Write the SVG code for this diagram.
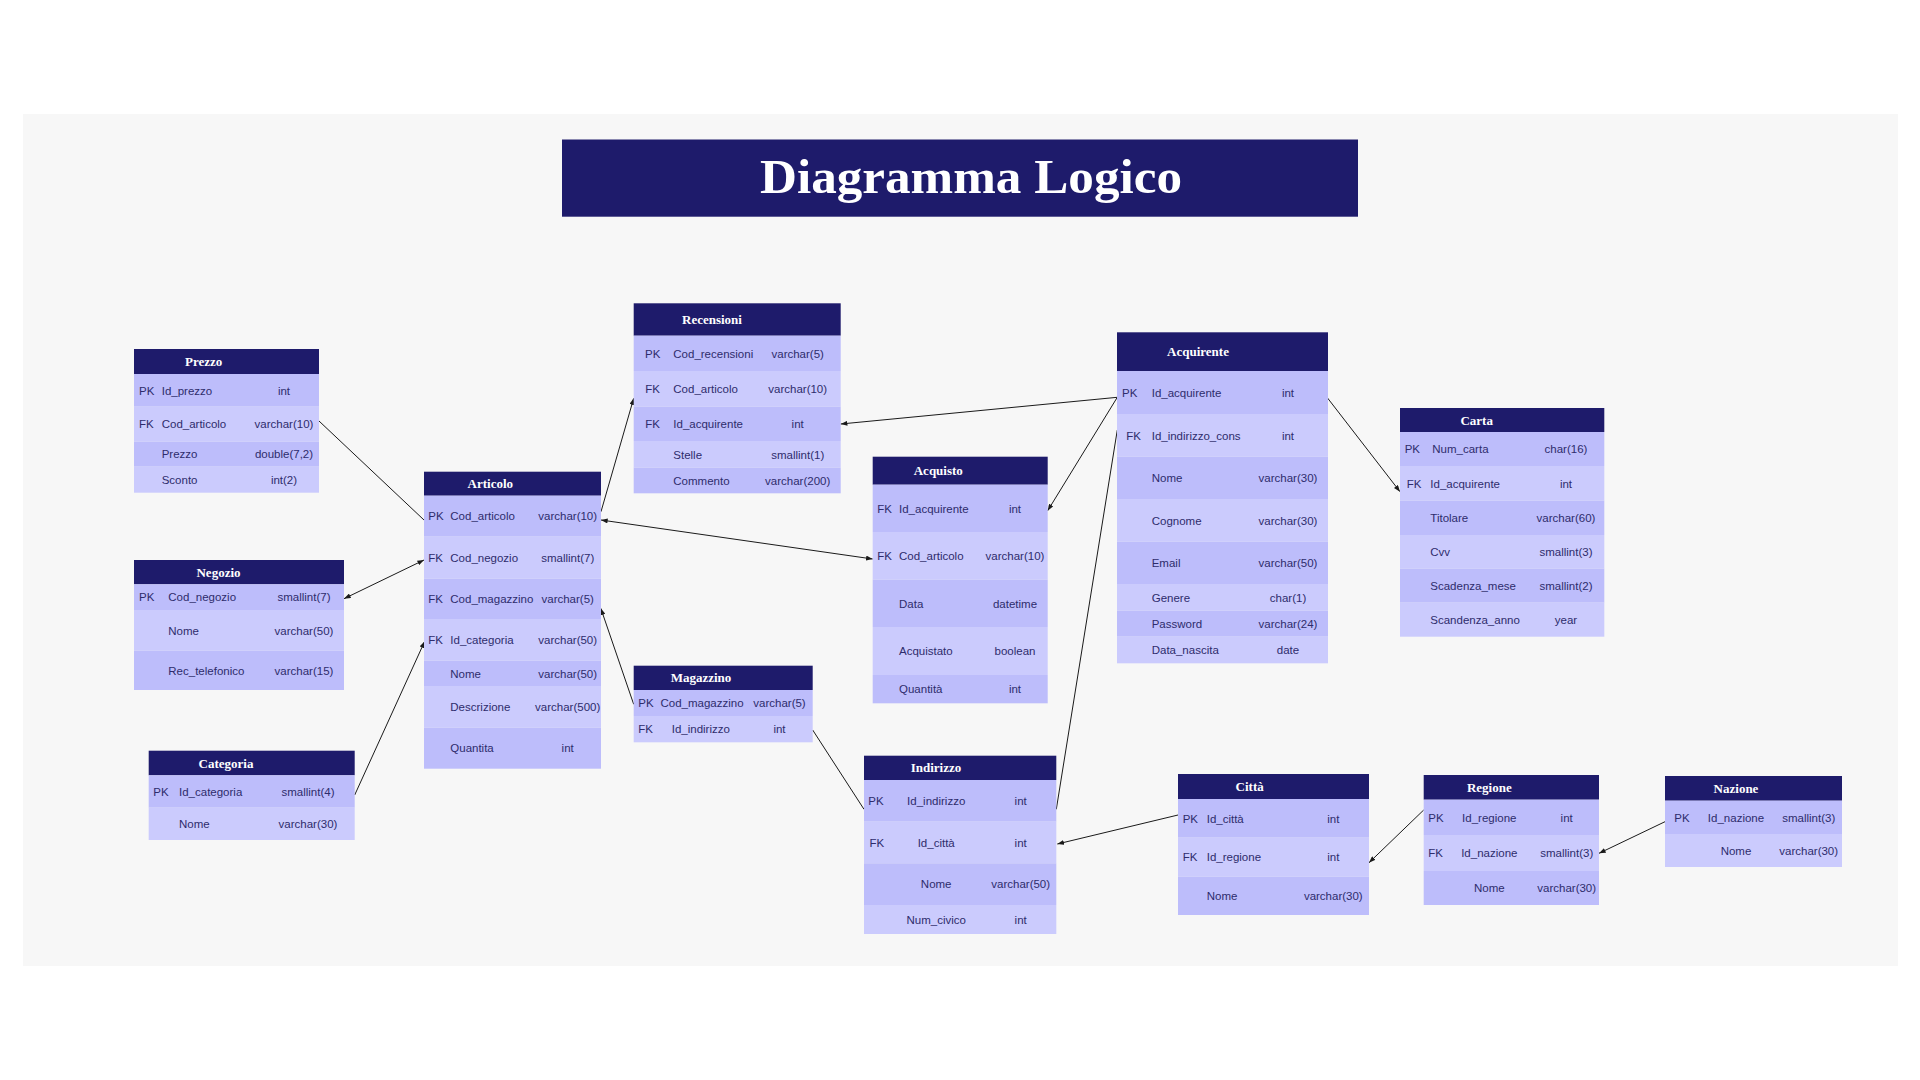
<svg xmlns="http://www.w3.org/2000/svg" width="1920" height="1080" viewBox="0 0 1920 1080">
<style>
.hd{fill:#1e1b6b}
.d{fill:#bdbdfb}
.l{fill:#cbcbfd}
.t{font-family:"Liberation Serif","DejaVu Serif",serif;font-weight:bold;font-size:13px;fill:#ffffff;text-anchor:middle}
.k{font-family:"Liberation Sans",Arial,sans-serif;font-size:11.5px;fill:#2e2c6c}
.m{text-anchor:middle}
.c{stroke:#1a1a1a;stroke-width:1;fill:none}
</style>
<defs>
<marker id="ar" viewBox="0 0 8 6" refX="8" refY="3" markerWidth="7" markerHeight="5" markerUnits="userSpaceOnUse" orient="auto-start-reverse">
<path d="M0,0 L8,3 L0,6 Z" fill="#1a1a1a"/>
</marker>
</defs>
<rect x="0" y="0" width="1920" height="1080" fill="#ffffff"/>
<rect x="23" y="114" width="1875" height="852" fill="#f7f7f7"/>
<g id="title">
<rect x="562" y="139.5" width="796" height="77.2" class="hd"/>
<text x="971" y="193.3" font-family="Liberation Serif,DejaVu Serif,serif" font-weight="bold" font-size="48" fill="#ffffff" text-anchor="middle" textLength="422" lengthAdjust="spacingAndGlyphs">Diagramma Logico</text>
</g>
<g id="connectors">
<line class="c" x1="319" y1="421" x2="424" y2="520"/>
<line class="c" x1="344" y1="598.7" x2="424" y2="560" marker-start="url(#ar)" marker-end="url(#ar)"/>
<line class="c" x1="354.7" y1="795" x2="424.7" y2="641.3" marker-end="url(#ar)"/>
<line class="c" x1="601" y1="511.7" x2="633.7" y2="398.3" marker-end="url(#ar)"/>
<line class="c" x1="601" y1="520" x2="872.7" y2="559" marker-start="url(#ar)" marker-end="url(#ar)"/>
<line class="c" x1="633.7" y1="704.3" x2="600.8" y2="608.3" marker-end="url(#ar)"/>
<line class="c" x1="812.7" y1="730" x2="864" y2="809.3"/>
<line class="c" x1="1117.3" y1="397.3" x2="840.7" y2="424" marker-end="url(#ar)"/>
<line class="c" x1="1117.3" y1="397.3" x2="1047.7" y2="510.7" marker-end="url(#ar)"/>
<line class="c" x1="1117.3" y1="430" x2="1056.3" y2="809.3"/>
<line class="c" x1="1327.3" y1="397.7" x2="1400" y2="491.7" marker-end="url(#ar)"/>
<line class="c" x1="1178" y1="815" x2="1057.3" y2="844" marker-end="url(#ar)"/>
<line class="c" x1="1423.7" y1="810" x2="1369" y2="862.7" marker-end="url(#ar)"/>
<line class="c" x1="1665" y1="821.7" x2="1599" y2="853.3" marker-end="url(#ar)"/>
</g>
<g id="prezzo">
<rect x="134" y="349" width="185" height="25" class="hd"/>
<text class="t" x="203.7" y="366">Prezzo</text>
<rect x="134" y="374" width="185" height="32.7" class="d"/>
<rect x="134" y="406.7" width="185" height="35" class="l"/>
<rect x="134" y="441.7" width="185" height="25" class="d"/>
<rect x="134" y="466.7" width="185" height="26" class="l"/>
<text class="k" x="139" y="394.5">PK</text><text class="k" x="161.7" y="394.5">Id_prezzo</text><text class="k m" x="284" y="394.5">int</text>
<text class="k" x="139" y="428.4">FK</text><text class="k" x="161.7" y="428.4">Cod_articolo</text><text class="k m" x="284" y="428.4">varchar(10)</text>
<text class="k" x="161.7" y="458.4">Prezzo</text><text class="k m" x="284" y="458.4">double(7,2)</text>
<text class="k" x="161.7" y="483.9">Sconto</text><text class="k m" x="284" y="483.9">int(2)</text>
</g>
<g id="articolo">
<rect x="424" y="471.7" width="177" height="24" class="hd"/>
<text class="t" x="490.3" y="488.2">Articolo</text>
<rect x="424" y="495.7" width="177" height="41" class="d"/>
<rect x="424" y="536.7" width="177" height="42" class="l"/>
<rect x="424" y="578.7" width="177" height="40.3" class="d"/>
<rect x="424" y="619" width="177" height="41.7" class="l"/>
<rect x="424" y="660.7" width="177" height="25.3" class="d"/>
<rect x="424" y="686" width="177" height="41.7" class="l"/>
<rect x="424" y="727.7" width="177" height="41" class="d"/>
<text class="k" x="428.3" y="520.4">PK</text><text class="k" x="450.3" y="520.4">Cod_articolo</text><text class="k m" x="567.7" y="520.4">varchar(10)</text>
<text class="k" x="428.3" y="561.9">FK</text><text class="k" x="450.3" y="561.9">Cod_negozio</text><text class="k m" x="567.7" y="561.9">smallint(7)</text>
<text class="k" x="428.3" y="603.1">FK</text><text class="k" x="450.3" y="603.1">Cod_magazzino</text><text class="k m" x="567.7" y="603.1">varchar(5)</text>
<text class="k" x="428.3" y="644.1">FK</text><text class="k" x="450.3" y="644.1">Id_categoria</text><text class="k m" x="567.7" y="644.1">varchar(50)</text>
<text class="k" x="450.3" y="677.6">Nome</text><text class="k m" x="567.7" y="677.6">varchar(50)</text>
<text class="k" x="450.3" y="711.1">Descrizione</text><text class="k m" x="567.7" y="711.1">varchar(500)</text>
<text class="k" x="450.3" y="752.4">Quantita</text><text class="k m" x="567.7" y="752.4">int</text>
</g>
<g id="negozio">
<rect x="134" y="560" width="210" height="24.3" class="hd"/>
<text class="t" x="218.5" y="576.7">Negozio</text>
<rect x="134" y="584.3" width="210" height="25.7" class="d"/>
<rect x="134" y="610" width="210" height="40.7" class="l"/>
<rect x="134" y="650.7" width="210" height="39.3" class="d"/>
<text class="k" x="139" y="601.4">PK</text><text class="k" x="168.3" y="601.4">Cod_negozio</text><text class="k m" x="304" y="601.4">smallint(7)</text>
<text class="k" x="168.3" y="634.6">Nome</text><text class="k m" x="304" y="634.6">varchar(50)</text>
<text class="k" x="168.3" y="674.6">Rec_telefonico</text><text class="k m" x="304" y="674.6">varchar(15)</text>
</g>
<g id="categoria">
<rect x="148.7" y="750.7" width="206" height="24.6" class="hd"/>
<text class="t" x="226" y="767.5">Categoria</text>
<rect x="148.7" y="775.3" width="206" height="32.4" class="d"/>
<rect x="148.7" y="807.7" width="206" height="32.3" class="l"/>
<text class="k" x="153.3" y="795.7">PK</text><text class="k" x="179" y="795.7">Id_categoria</text><text class="k m" x="308" y="795.7">smallint(4)</text>
<text class="k" x="179" y="828.1">Nome</text><text class="k m" x="308" y="828.1">varchar(30)</text>
</g>
<g id="recensioni">
<rect x="633.7" y="303.3" width="207" height="32.4" class="hd"/>
<text class="t" x="712" y="324">Recensioni</text>
<rect x="633.7" y="335.7" width="207" height="35.3" class="d"/>
<rect x="633.7" y="371" width="207" height="35.7" class="l"/>
<rect x="633.7" y="406.7" width="207" height="34.3" class="d"/>
<rect x="633.7" y="441" width="207" height="26.7" class="l"/>
<rect x="633.7" y="467.7" width="207" height="25.6" class="d"/>
<text class="k" x="645" y="357.6">PK</text><text class="k" x="673.3" y="357.6">Cod_recensioni</text><text class="k m" x="797.7" y="357.6">varchar(5)</text>
<text class="k" x="645.3" y="393.1">FK</text><text class="k" x="673.3" y="393.1">Cod_articolo</text><text class="k m" x="797.7" y="393.1">varchar(10)</text>
<text class="k" x="645.3" y="428.1">FK</text><text class="k" x="673.3" y="428.1">Id_acquirente</text><text class="k m" x="797.7" y="428.1">int</text>
<text class="k" x="673.3" y="458.6">Stelle</text><text class="k m" x="797.7" y="458.6">smallint(1)</text>
<text class="k" x="673.3" y="484.7">Commento</text><text class="k m" x="797.7" y="484.7">varchar(200)</text>
</g>
<g id="acquisto">
<rect x="872.7" y="456.7" width="175" height="28" class="hd"/>
<text class="t" x="938.3" y="475.2">Acquisto</text>
<rect x="872.7" y="484.7" width="175" height="47.3" class="d"/>
<rect x="872.7" y="532" width="175" height="47.7" class="l"/>
<rect x="872.7" y="579.7" width="175" height="47.3" class="d"/>
<rect x="872.7" y="627" width="175" height="48" class="l"/>
<rect x="872.7" y="675" width="175" height="28.3" class="d"/>
<text class="k" x="877.3" y="512.6">FK</text><text class="k" x="899" y="512.6">Id_acquirente</text><text class="k m" x="1015" y="512.6">int</text>
<text class="k" x="877.3" y="560.1">FK</text><text class="k" x="899" y="560.1">Cod_articolo</text><text class="k m" x="1015" y="560.1">varchar(10)</text>
<text class="k" x="899" y="607.6">Data</text><text class="k m" x="1015" y="607.6">datetime</text>
<text class="k" x="899" y="655.2">Acquistato</text><text class="k m" x="1015" y="655.2">boolean</text>
<text class="k" x="899" y="693.4">Quantità</text><text class="k m" x="1015" y="693.4">int</text>
</g>
<g id="magazzino">
<rect x="633.7" y="665.7" width="179" height="24.3" class="hd"/>
<text class="t" x="701" y="682.4">Magazzino</text>
<rect x="633.7" y="690" width="179" height="26" class="d"/>
<rect x="633.7" y="716" width="179" height="26.3" class="l"/>
<text class="k" x="638.3" y="707.2">PK</text><text class="k m" x="702" y="707.2">Cod_magazzino</text><text class="k m" x="779.5" y="707.2">varchar(5)</text>
<text class="k" x="638.3" y="733.4">FK</text><text class="k m" x="700.8" y="733.4">Id_indirizzo</text><text class="k m" x="779.5" y="733.4">int</text>
</g>
<g id="indirizzo">
<rect x="864" y="755.7" width="192.3" height="24.3" class="hd"/>
<text class="t" x="936" y="772.4">Indirizzo</text>
<rect x="864" y="780" width="192.3" height="41.7" class="d"/>
<rect x="864" y="821.7" width="192.3" height="41.6" class="l"/>
<rect x="864" y="863.3" width="192.3" height="41.7" class="d"/>
<rect x="864" y="905" width="192.3" height="29" class="l"/>
<text class="k" x="868.3" y="805.1">PK</text><text class="k m" x="936.2" y="805.1">Id_indirizzo</text><text class="k m" x="1020.7" y="805.1">int</text>
<text class="k" x="869.5" y="846.7">FK</text><text class="k m" x="936.2" y="846.7">Id_città</text><text class="k m" x="1020.7" y="846.7">int</text>
<text class="k m" x="936.2" y="888.4">Nome</text><text class="k m" x="1020.7" y="888.4">varchar(50)</text>
<text class="k m" x="936.2" y="923.7">Num_civico</text><text class="k m" x="1020.7" y="923.7">int</text>
</g>
<g id="acquirente">
<rect x="1117" y="332.3" width="211" height="38.7" class="hd"/>
<text class="t" x="1198" y="356.2">Acquirente</text>
<rect x="1117" y="371" width="211" height="43" class="d"/>
<rect x="1117" y="414" width="211" height="42.7" class="l"/>
<rect x="1117" y="456.7" width="211" height="42.3" class="d"/>
<rect x="1117" y="499" width="211" height="42.7" class="l"/>
<rect x="1117" y="541.7" width="211" height="42.3" class="d"/>
<rect x="1117" y="584" width="211" height="26.7" class="l"/>
<rect x="1117" y="610.7" width="211" height="26" class="d"/>
<rect x="1117" y="636.7" width="211" height="26.6" class="l"/>
<text class="k" x="1122" y="396.7">PK</text><text class="k" x="1151.7" y="396.7">Id_acquirente</text><text class="k m" x="1288" y="396.7">int</text>
<text class="k" x="1126.3" y="439.6">FK</text><text class="k" x="1151.7" y="439.6">Id_indirizzo_cons</text><text class="k m" x="1288" y="439.6">int</text>
<text class="k" x="1151.7" y="482.1">Nome</text><text class="k m" x="1288" y="482.1">varchar(30)</text>
<text class="k" x="1151.7" y="524.6">Cognome</text><text class="k m" x="1288" y="524.6">varchar(30)</text>
<text class="k" x="1151.7" y="567.1">Email</text><text class="k m" x="1288" y="567.1">varchar(50)</text>
<text class="k" x="1151.7" y="601.6">Genere</text><text class="k m" x="1288" y="601.6">char(1)</text>
<text class="k" x="1151.7" y="627.9">Password</text><text class="k m" x="1288" y="627.9">varchar(24)</text>
<text class="k" x="1151.7" y="654.2">Data_nascita</text><text class="k m" x="1288" y="654.2">date</text>
</g>
<g id="carta">
<rect x="1400" y="408" width="204.3" height="24" class="hd"/>
<text class="t" x="1476.7" y="424.5">Carta</text>
<rect x="1400" y="432" width="204.3" height="34" class="d"/>
<rect x="1400" y="466" width="204.3" height="34.7" class="l"/>
<rect x="1400" y="500.7" width="204.3" height="34.3" class="d"/>
<rect x="1400" y="535" width="204.3" height="33.7" class="l"/>
<rect x="1400" y="568.7" width="204.3" height="34" class="d"/>
<rect x="1400" y="602.7" width="204.3" height="34" class="l"/>
<text class="k" x="1404.7" y="453.2">PK</text><text class="k" x="1432.3" y="453.2">Num_carta</text><text class="k m" x="1566" y="453.2">char(16)</text>
<text class="k" x="1406.7" y="487.6">FK</text><text class="k" x="1430.3" y="487.6">Id_acquirente</text><text class="k m" x="1566" y="487.6">int</text>
<text class="k" x="1430.3" y="522.1">Titolare</text><text class="k m" x="1566" y="522.1">varchar(60)</text>
<text class="k" x="1430.3" y="556.1">Cvv</text><text class="k m" x="1566" y="556.1">smallint(3)</text>
<text class="k" x="1430.3" y="589.9">Scadenza_mese</text><text class="k m" x="1566" y="589.9">smallint(2)</text>
<text class="k" x="1430.3" y="623.9">Scandenza_anno</text><text class="k m" x="1566" y="623.9">year</text>
</g>
<g id="citta">
<rect x="1178" y="774" width="191" height="25" class="hd"/>
<text class="t" x="1249.7" y="791">Città</text>
<rect x="1178" y="799" width="191" height="38.7" class="d"/>
<rect x="1178" y="837.7" width="191" height="39" class="l"/>
<rect x="1178" y="876.7" width="191" height="38.3" class="d"/>
<text class="k" x="1182.7" y="822.6">PK</text><text class="k" x="1206.7" y="822.6">Id_città</text><text class="k m" x="1333.3" y="822.6">int</text>
<text class="k" x="1182.7" y="861.4">FK</text><text class="k" x="1206.7" y="861.4">Id_regione</text><text class="k m" x="1333.3" y="861.4">int</text>
<text class="k" x="1206.7" y="900.1">Nome</text><text class="k m" x="1333.3" y="900.1">varchar(30)</text>
</g>
<g id="regione">
<rect x="1423.7" y="775" width="175.3" height="24.7" class="hd"/>
<text class="t" x="1489.3" y="791.9">Regione</text>
<rect x="1423.7" y="799.7" width="175.3" height="35.3" class="d"/>
<rect x="1423.7" y="835" width="175.3" height="36" class="l"/>
<rect x="1423.7" y="871" width="175.3" height="34" class="d"/>
<text class="k" x="1428.3" y="821.6">PK</text><text class="k m" x="1489.3" y="821.6">Id_regione</text><text class="k m" x="1566.7" y="821.6">int</text>
<text class="k" x="1428.3" y="857.2">FK</text><text class="k m" x="1489.3" y="857.2">Id_nazione</text><text class="k m" x="1566.7" y="857.2">smallint(3)</text>
<text class="k m" x="1489.3" y="892.2">Nome</text><text class="k m" x="1566.7" y="892.2">varchar(30)</text>
</g>
<g id="nazione">
<rect x="1665" y="776" width="177" height="24.7" class="hd"/>
<text class="t" x="1736" y="792.9">Nazione</text>
<rect x="1665" y="800.7" width="177" height="33.3" class="d"/>
<rect x="1665" y="834" width="177" height="33" class="l"/>
<text class="k" x="1674.3" y="821.6">PK</text><text class="k m" x="1736" y="821.6">Id_nazione</text><text class="k m" x="1808.7" y="821.6">smallint(3)</text>
<text class="k m" x="1736" y="854.7">Nome</text><text class="k m" x="1808.7" y="854.7">varchar(30)</text>
</g>
</svg>
